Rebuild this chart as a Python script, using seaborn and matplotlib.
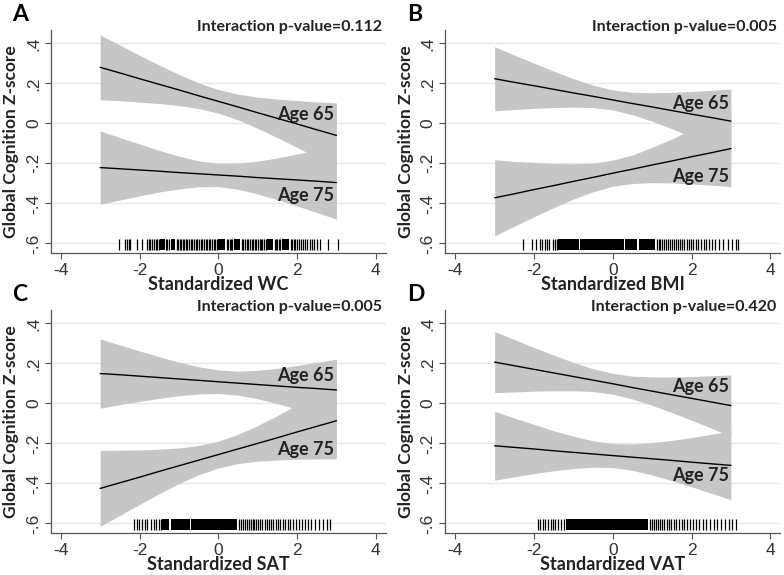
import matplotlib
matplotlib.use("Agg")
import matplotlib.pyplot as plt
import seaborn as sns

x_grid = [-3, -2.5, -2, -1.5, -1, -0.5, 0, 0.5, 1, 1.5, 2, 2.5, 3]

# Panel A - waist circumference
wc_fit65 = [0.280, 0.252, 0.223, 0.195, 0.167, 0.138, 0.110, 0.082, 0.053, 0.025, -0.003, -0.032, -0.060]
wc_hi65 = [0.442, 0.391, 0.340, 0.291, 0.245, 0.202, 0.169, 0.146, 0.131, 0.121, 0.114, 0.107, 0.102]
wc_lo65 = [0.118, 0.113, 0.106, 0.099, 0.089, 0.074, 0.051, 0.018, -0.025, -0.071, -0.120, -0.171, -0.222]
wc_fit75 = [-0.221, -0.227, -0.233, -0.239, -0.246, -0.252, -0.258, -0.264, -0.271, -0.277, -0.283, -0.289, -0.296]
wc_hi75 = [-0.038, -0.071, -0.103, -0.135, -0.164, -0.187, -0.200, -0.199, -0.189, -0.173, -0.153, -0.133, -0.113]
wc_lo75 = [-0.404, -0.383, -0.363, -0.343, -0.328, -0.317, -0.316, -0.329, -0.353, -0.381, -0.413, -0.445, -0.479]

# Panel B - BMI
bmi_fit65 = [0.223, 0.205, 0.188, 0.170, 0.152, 0.135, 0.117, 0.099, 0.082, 0.064, 0.046, 0.029, 0.011]
bmi_hi65 = [0.383, 0.341, 0.301, 0.261, 0.223, 0.191, 0.167, 0.155, 0.153, 0.155, 0.159, 0.165, 0.171]
bmi_lo65 = [0.063, 0.069, 0.075, 0.079, 0.081, 0.079, 0.067, 0.043, 0.011, -0.027, -0.067, -0.107, -0.149]
bmi_fit75 = [-0.372, -0.352, -0.331, -0.311, -0.290, -0.270, -0.249, -0.229, -0.208, -0.188, -0.167, -0.147, -0.126]
bmi_hi75 = [-0.182, -0.190, -0.195, -0.201, -0.202, -0.199, -0.184, -0.158, -0.120, -0.078, -0.031, 0.015, 0.064]
bmi_lo75 = [-0.562, -0.514, -0.467, -0.421, -0.378, -0.342, -0.314, -0.301, -0.296, -0.298, -0.303, -0.309, -0.316]

# Panel C - SAT
sat_fit65 = [0.149, 0.143, 0.136, 0.129, 0.122, 0.115, 0.108, 0.101, 0.094, 0.087, 0.080, 0.074, 0.067]
sat_hi65 = [0.322, 0.292, 0.262, 0.233, 0.206, 0.183, 0.167, 0.161, 0.165, 0.175, 0.189, 0.205, 0.221]
sat_lo65 = [-0.024, -0.006, 0.010, 0.025, 0.038, 0.047, 0.049, 0.041, 0.023, -0.001, -0.029, -0.057, -0.087]
sat_fit75 = [-0.425, -0.397, -0.369, -0.340, -0.312, -0.284, -0.256, -0.228, -0.200, -0.172, -0.143, -0.115, -0.087]
sat_hi75 = [-0.235, -0.234, -0.233, -0.229, -0.223, -0.211, -0.189, -0.155, -0.111, -0.061, -0.007, 0.048, 0.103]
sat_lo75 = [-0.615, -0.560, -0.505, -0.451, -0.401, -0.357, -0.323, -0.301, -0.289, -0.283, -0.279, -0.278, -0.277]

# Panel D - VAT
vat_fit65 = [0.206, 0.188, 0.170, 0.152, 0.134, 0.116, 0.098, 0.079, 0.061, 0.043, 0.025, 0.007, -0.011]
vat_hi65 = [0.359, 0.319, 0.279, 0.241, 0.205, 0.173, 0.150, 0.136, 0.132, 0.132, 0.134, 0.138, 0.142]
vat_lo65 = [0.053, 0.057, 0.061, 0.063, 0.063, 0.059, 0.046, 0.022, -0.010, -0.046, -0.084, -0.124, -0.164]
vat_fit75 = [-0.212, -0.220, -0.228, -0.237, -0.245, -0.253, -0.261, -0.269, -0.277, -0.285, -0.294, -0.302, -0.310]
vat_hi75 = [-0.040, -0.073, -0.105, -0.137, -0.164, -0.187, -0.201, -0.203, -0.196, -0.185, -0.171, -0.155, -0.138]
vat_lo75 = [-0.384, -0.367, -0.351, -0.337, -0.326, -0.319, -0.321, -0.335, -0.358, -0.386, -0.417, -0.449, -0.482]

# rug of observed exposure values (single ticks + solid dense stretches)
wc_rug = [-2.51, -2.38, -2.33, -2.28, -2.23, -2.06, -1.94,
          -1.82, -1.77, -1.73, -1.68, -1.63, -1.59, -1.55, -1.51, -1.33, -1.29, -1.25,
          -1.06, -1.02, -0.98, -0.94, -0.90, -0.87, -0.83, -0.79, -0.74, -0.70, -0.66, -0.62,
          -0.57, -0.53, -0.49, -0.45, -0.41, -0.36, -0.32, -0.28, -0.24, -0.20, -0.16, -0.12,
          -0.08, -0.04, 0.21, 0.25, 0.29, 0.33, 0.36, 0.60, 0.64, 0.68, 0.72, 0.76, 0.81, 0.85,
          0.89, 0.93, 0.97, 1.01, 1.05, 1.09, 1.12, 1.16, 1.20, 1.43, 1.46, 1.50, 1.54, 1.58,
          1.84, 1.88, 1.92, 1.96, 2.01, 2.05, 2.10, 2.15, 2.21, 2.26, 2.32, 2.38, 2.44, 2.50,
          2.58, 2.79, 3.05]
wc_dense = [(-1.47, -1.36), (-1.21, -1.10), (0.0, 0.18), (0.39, 0.56), (1.24, 1.40), (1.62, 1.80)]

bmi_rug = [-2.28, -2.05, -1.95, -1.86, -1.80, -1.73, -1.67, -1.61, -1.52, -1.46, -1.42,
           1.12, 1.17, 1.21, 1.26, 1.31, 1.35, 1.40, 1.45, 1.50, 1.55, 1.60, 1.66, 1.71,
           1.76, 1.82, 1.88, 1.93, 1.99, 2.05, 2.11, 2.17, 2.24, 2.31, 2.38, 2.45, 2.52,
           2.59, 2.69, 2.80, 2.93, 3.02, 3.12, 3.19]
bmi_dense = [(-1.39, -0.85), (-0.82, 0.28), (0.32, 0.62), (0.66, 1.07)]

sat_rug = [-2.14, -2.07, -2.01, -1.93, -1.86, -1.80, -1.72, -1.63, -1.57, -1.50, -1.46,
           0.52, 0.57, 0.62, 0.67, 0.72, 0.77, 0.82, 0.87, 0.92, 0.97, 1.02, 1.07, 1.12,
           1.18, 1.23, 1.29, 1.34, 1.40, 1.46, 1.52, 1.58, 1.64, 1.70, 1.76, 1.83, 1.90,
           1.97, 2.04, 2.12, 2.20, 2.28, 2.36, 2.45, 2.55, 2.66, 2.76, 2.84]
sat_dense = [(-1.42, -1.25), (-1.20, -0.72), (-0.68, 0.48)]

vat_rug = [-1.89, -1.84, -1.78, -1.72, -1.65, -1.58, -1.52, -1.46, -1.38, -1.31, -1.24,
           0.95, 1.00, 1.05, 1.10, 1.15, 1.20, 1.26, 1.31, 1.37, 1.43, 1.49, 1.55, 1.61,
           1.68, 1.75, 1.82, 1.89, 1.96, 2.04, 2.12, 2.20, 2.29, 2.38, 2.47, 2.56, 2.65,
           2.74, 2.84, 2.94, 3.04, 3.14]
vat_dense = [(-1.20, 0.90)]

letters = ["A", "B", "C", "D"]
xlabels = ["Standardized WC", "Standardized BMI", "Standardized SAT", "Standardized VAT"]
pvalues = ["0.112", "0.005", "0.005", "0.420"]
age65_y = [0.045, 0.10, 0.138, 0.082]
age75_y = [-0.36, -0.264, -0.232, -0.359]

x_ticks = [-4, -2, 0, 2, 4]
x_ticklabels = ["-4", "-2", "0", "2", "4"]
y_ticks = [-0.6, -0.4, -0.2, 0, 0.2, 0.4]
y_ticklabels = ["-.6", "-.4", "-.2", "0", ".2", ".4"]

panels = [
    (wc_fit65, wc_lo65, wc_hi65, wc_fit75, wc_lo75, wc_hi75, wc_rug, wc_dense),
    (bmi_fit65, bmi_lo65, bmi_hi65, bmi_fit75, bmi_lo75, bmi_hi75, bmi_rug, bmi_dense),
    (sat_fit65, sat_lo65, sat_hi65, sat_fit75, sat_lo75, sat_hi75, sat_rug, sat_dense),
    (vat_fit65, vat_lo65, vat_hi65, vat_fit75, vat_lo75, vat_hi75, vat_rug, vat_dense),
]

sns.set_theme(style="white")
bold_font = ["Lato", "DejaVu Sans"]
tick_font = ["Liberation Sans", "DejaVu Sans"]
band_color = "#c6c6c6"
axis_color = "#555555"

fig, axes = plt.subplots(2, 2, figsize=(7.84, 5.75), dpi=100)
fig.subplots_adjust(left=0.065, right=0.995, top=0.948, bottom=0.073, wspace=0.179, hspace=0.255)

RUG_LO, RUG_HI = -0.635, -0.577

for i, ax in enumerate(axes.flat):
    fit65, lo65, hi65, fit75, lo75, hi75, rug, dense = panels[i]

    for yt in y_ticks:
        ax.axhline(yt, color="#e8e8e8", lw=1.0, zorder=0)

    ax.fill_between(x_grid, lo65, hi65, color=band_color, lw=0, zorder=1)
    ax.fill_between(x_grid, lo75, hi75, color=band_color, lw=0, zorder=1)
    sns.lineplot(x=x_grid, y=fit65, ax=ax, color="black", lw=1.0, zorder=3)
    sns.lineplot(x=x_grid, y=fit75, ax=ax, color="black", lw=1.0, zorder=3)

    ax.vlines(rug, RUG_LO, RUG_HI, color="black", lw=0.9, zorder=3)
    for lo, hi in dense:
        ax.fill_between([lo, hi], RUG_LO, RUG_HI, color="black", lw=0, zorder=3)

    ax.text(2.95, age65_y[i], "Age 65", ha="right", va="center", fontsize=13,
            fontweight="bold", family=bold_font, color="#222222", zorder=4)
    ax.text(2.95, age75_y[i], "Age 75", ha="right", va="center", fontsize=13,
            fontweight="bold", family=bold_font, color="#222222", zorder=4)

    ax.set_xlim(-4.25, 4.25)
    ax.set_ylim(-0.648, 0.467)
    ax.set_xticks(x_ticks)
    ax.set_xticklabels(x_ticklabels, family=tick_font, fontsize=12.5, color="#333333")
    ax.set_yticks(y_ticks)
    ax.set_yticklabels(y_ticklabels, family=tick_font, fontsize=12.5, color="#333333",
                       rotation=90, va="center")
    ax.tick_params(axis="both", direction="out", length=4, width=0.8, color=axis_color,
                   pad=3, left=True, bottom=True)

    sns.despine(ax=ax)
    for side in ["left", "bottom"]:
        ax.spines[side].set_color(axis_color)
        ax.spines[side].set_linewidth(0.9)

    ax.set_xlabel(xlabels[i], family=bold_font, fontweight="bold", fontsize=13,
                  color="#222222", labelpad=-1)
    ax.set_ylabel("Global Cognition Z-score", family=bold_font, fontweight="bold",
                  fontsize=12.5, color="#222222", labelpad=5)

    ax.text(0.99, 1.045, f"Interaction p-value={pvalues[i]}", transform=ax.transAxes,
            ha="right", va="top", fontsize=11.5, fontweight="bold", family=bold_font,
            color="#222222")
    ax.text(-0.115, 1.115, letters[i], transform=ax.transAxes, ha="left", va="top",
            fontsize=16.5, fontweight="bold", family=bold_font, color="black")

fig.savefig("out.png", dpi=100)
